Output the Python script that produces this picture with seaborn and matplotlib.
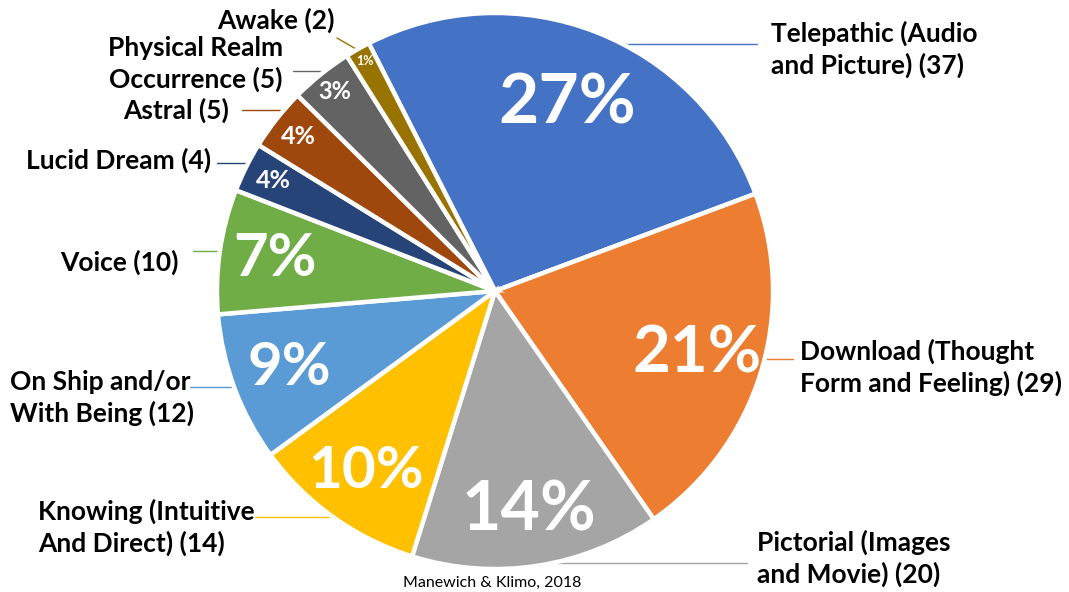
import numpy as np
import matplotlib
matplotlib.use("Agg")
import matplotlib.pyplot as plt
import seaborn as sns

# Survey categories, counts and the rounded shares shown on the slices
categories = [
    "Telepathic (Audio\nand Picture) (37)",
    "Download (Thought\nForm and Feeling) (29)",
    "Pictorial (Images\nand Movie) (20)",
    "Knowing (Intuitive\nAnd Direct) (14)",
    "On Ship and/or\nWith Being (12)",
    "Voice (10)",
    "Lucid Dream (4)",
    "Astral (5)",
    "Physical Realm\nOccurrence (5)",
    "Awake (2)",
]
counts = [37, 29, 20, 14, 12, 10, 4, 5, 5, 2]
pct_labels = ["27%", "21%", "14%", "10%", "9%", "7%", "4%", "4%", "3%", "1%"]
source = "Manewich & Klimo, 2018"

colors = sns.color_palette(["#4472C4", "#ED7D31", "#A5A5A5", "#FFC000", "#5B9BD5",
                            "#70AD47", "#264478", "#9E480E", "#636363", "#997300"])

sns.set_theme(style="white")
plt.rcParams["font.family"] = ["Lato", "DejaVu Sans"]

W, H = 1069, 592
fig = plt.figure(figsize=(W / 100, H / 100), dpi=100)
ax = fig.add_axes([0, 0, 1, 1])

cx, cy, R = 495, H - 291, 278
wedges, _ = ax.pie(
    counts, colors=colors, startangle=117, counterclock=False,
    center=(cx, cy), radius=R, explode=[0.024] * len(counts),
    wedgeprops=dict(edgecolor="white", linewidth=3.2),
)
ax.set_xlim(0, W)
ax.set_ylim(0, H)
ax.set_aspect("equal")
ax.axis("off")

# percentage text inside each slice: radial position and size per slice
pct_r = [0.72, 0.76, 0.80, 0.80, 0.79, 0.80, 0.89, 0.90, 0.92, 0.95]
pct_size = [50, 47, 49, 42, 43, 43, 18, 18, 17, 9]
for w, lab, rf, fs in zip(wedges, pct_labels, pct_r, pct_size):
    th = np.deg2rad((w.theta1 + w.theta2) / 2)
    x0, y0 = w.center
    ax.text(x0 + rf * R * np.cos(th), y0 + rf * R * np.sin(th), lab,
            ha="center", va="center", color="white", fontsize=fs,
            fontweight="bold", zorder=5)

# outside labels: (x, y, ha, multialign) in pixel space with y measured from top
label_pos = [
    (771, 49, "left", "left"),
    (800, 367, "left", "left"),
    (757, 558, "left", "left"),
    (38, 527, "left", "left"),
    (10, 398, "left", "left"),
    (179, 262, "right", "right"),
    (211, 160, "right", "right"),
    (229, 110, "right", "right"),
    (196, 64, "center", "center"),
    (335, 20, "right", "right"),
]
for lab, (x, y, ha, ma) in zip(categories, label_pos):
    ax.text(x, H - y, lab, ha=ha, va="center", multialignment=ma,
            fontsize=19, fontweight="bold", color="black", linespacing=1.3)

# leader lines: horizontal from label end to the pie edge
leader = [
    (44, 757, +1), (359, 793, +1), (563, 747, +1), (517, 255, -1),
    (387, 190, -1), (251, 193, -1), (163, 217, -1), (110, 242, -1),
    (71, 293, -1),
]
for (yl, xend, side), col in zip(leader, colors):
    dy = (H - yl) - cy
    xe = cx + side * (np.sqrt(max(R ** 2 - dy ** 2, 0)) - 6)
    ax.plot([xend, xe], [H - yl, H - yl], color=col, lw=1.0, zorder=0.5)
ax.plot([337, 356], [H - 38, H - 49], color=colors[9], lw=1.0, zorder=0.5)

ax.text(492, H - 583, source, ha="center", va="center", fontsize=11.5,
        color="black")

fig.savefig("out.png", dpi=100, facecolor="white")
